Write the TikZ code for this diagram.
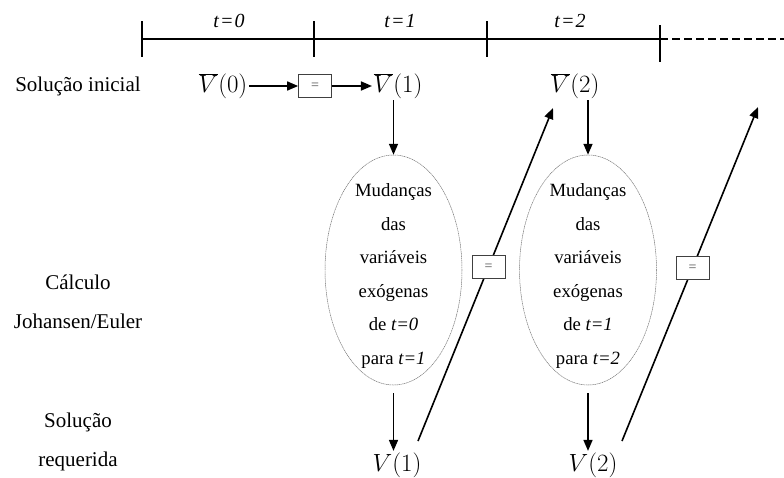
\documentclass[tikz,border=0pt]{standalone}
\usepackage{fontspec}
\setmainfont{Liberation Serif}
\usetikzlibrary{shapes.geometric,arrows.meta}
\begin{document}
\begin{tikzpicture}[x=1pt,y=-1pt,
  arr/.style={line width=1.6pt,-{Triangle[length=11pt,width=9pt]}},
  eqbox/.style={draw=black!75,line width=0.7pt,fill=white,minimum width=33pt,minimum height=23pt,inner sep=0pt,font=\fontsize{14}{14}\selectfont,text=black!70},
  ell/.style={ellipse,draw=black!55,line width=0.5pt,dash pattern=on 1.2pt off 0.6pt,minimum width=137pt,minimum height=230pt,inner sep=0pt},
  lbl/.style={font=\fontsize{21}{39}\selectfont,align=center,inner sep=0pt},
  etext/.style={font=\fontsize{18.7}{33.5}\selectfont,align=center,inner sep=0pt},
  mathlbl/.style={font=\fontsize{25}{30}\selectfont,inner sep=1.5pt},
  tline/.style={line width=1.4pt},
  tlab/.style={font=\fontsize{20}{22}\selectfont\itshape,inner sep=0pt}]
\useasboundingbox (0,0) rectangle (784,477);
% timeline
\coordinate (T0) at (142,39);
\coordinate (T1) at (314,39);
\coordinate (T2) at (487,39);
\coordinate (T3) at (660,39);
\coordinate (Tend) at (784,39);
\draw[tline] (T0) -- (T3);
\draw[line width=1.1pt,dash pattern=on 8pt off 4pt] (T3) -- (Tend);
\draw[tline] (142,21) -- (142,57);
\draw[tline] (314,21) -- (314,57);
\draw[tline] (487,21) -- (487,57);
\draw[tline] (660,25) -- (660,62);
\node[tlab] (l0) at (229,21) {t\kern1pt=\kern1pt0};
\node[tlab] (l1) at (400,21) {t\kern1pt=\kern1pt1};
\node[tlab] (l2) at (570,21) {t\kern1pt=\kern1pt2};
% left labels
\node[lbl] (s0) at (78,86) {Solução inicial};
\node[lbl] (s1) at (78,302) {Cálculo\\Johansen/Euler};
\node[lbl] (s2) at (78,442) {Solução\\requerida};
% top row
\node[mathlbl] (Vb0) at (223,86) {$\overline{V}(0)$};
\node[eqbox] (q0) at (315,86) {=};
\node[mathlbl] (Vb1) at (398,86) {$\overline{V}(1)$};
\node[mathlbl] (Vb2) at (575,86) {$\overline{V}(2)$};
\draw[arr] (Vb0.east) -- (q0.west);
\draw[arr] (q0.east) -- (Vb1.west);
% ellipses
\node[ell] (E1) at (393.5,270) {};
\node[ell] (E2) at (588,270) {};
\node[etext] (X1) at (393.5,276) {Mudanças\\das\\variáveis\\exógenas\\de \textit{t=0}\\para \textit{t=1}};
\node[etext] (X2) at (588,276) {Mudanças\\das\\variáveis\\exógenas\\de \textit{t=1}\\para \textit{t=2}};
% bottom row
\node[mathlbl] (V1) at (397,465) {$V(1)$};
\node[mathlbl] (V2) at (593,465) {$V(2)$};
% vertical arrows
\draw[arr] (Vb1.south -| E1.north) -- (E1.north);
\draw[arr] (Vb2.south -| E2.north) -- (E2.north);
\draw[arr,shorten <=8pt] (E1.south) -- (E1.south |- V1.north);
\draw[arr,shorten <=8pt] (E2.south) -- (E2.south |- V2.north);
% diagonals
\coordinate (d1a) at (418,441);
\coordinate (d1b) at (553,108);
\coordinate (d2a) at (622,441);
\coordinate (d2b) at (758,107);
\draw[arr] (d1a) -- (d1b);
\draw[arr] (d2a) -- (d2b);
\path (d1a) -- (d1b) node[eqbox,pos=0.5225] (q1) {=};
\path (d2a) -- (d2b) node[eqbox,pos=0.518] (q2) {=};
\end{tikzpicture}
\end{document}
